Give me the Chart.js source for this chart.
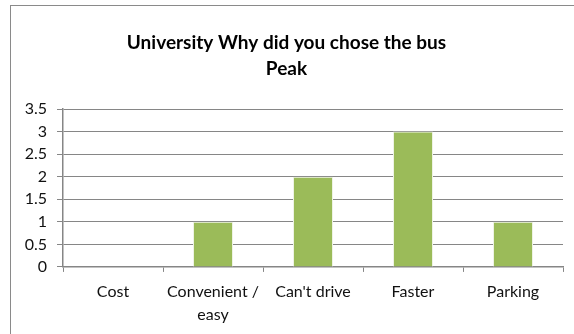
<!DOCTYPE html>
<html>
<head>
<meta charset="utf-8">
<script src="https://cdn.jsdelivr.net/npm/chart.js@4/dist/chart.umd.min.js"></script>
<style>
  html, body { margin: 0; padding: 0; background: #fff; }
  #wrap { position: relative; width: 574px; height: 334px; overflow: hidden; }
  #frame { position: absolute; left: 10px; top: 5px; width: 600px; height: 400px; border: 1px solid #8a8a8a; }
  #chart { position: absolute; left: 0; top: 0; }
</style>
</head>
<body>
<div id="wrap">
  <div id="frame"></div>
  <canvas id="chart" width="574" height="334"></canvas>
</div>
<script>
// chart data
const categories = ['Cost', ['Convenient /', 'easy'], "Can't drive", 'Faster', 'Parking'];
const counts = [0, 1, 2, 3, 1];
const titleLines = ['University Why did you chose the bus', 'Peak'];

const axisGray = '#868686';
const fontFamily = 'Lato, Calibri, "Open Sans", sans-serif';

const ctx = document.getElementById('chart').getContext('2d');
const chart = new Chart(ctx, {
  type: 'bar',
  data: {
    labels: categories,
    datasets: [{
      data: counts,
      backgroundColor: '#9BBB59',
      borderColor: '#eef3e4',
      borderWidth: 1,
      barPercentage: 0.4,
      categoryPercentage: 1
    }]
  },
  options: {
    responsive: false,
    animation: false,
    layout: { padding: { left: 10, right: 11, top: 0, bottom: 0 } },
    plugins: {
      legend: { display: false },
      tooltip: { enabled: false },
      title: {
        display: true,
        text: titleLines,
        color: '#000',
        font: { family: fontFamily, size: 19, weight: 'bold', lineHeight: 1.37 },
        padding: { top: 30, bottom: 27 }
      }
    },
    scales: {
      x: {
        offset: true,
        grid: { offset: true, drawOnChartArea: false, color: axisGray, tickLength: 5 },
        border: { color: axisGray, width: 1.5 },
        ticks: { color: '#111', font: { family: fontFamily, size: 16, lineHeight: 1.44 }, maxRotation: 0, padding: 8 }
      },
      y: {
        min: 0,
        max: 3.5,
        ticks: {
          stepSize: 0.5,
          color: '#111',
          font: { family: fontFamily, size: 16 },
          padding: 10,
          callback: v => String(v)
        },
        grid: { color: axisGray, tickLength: 6 },
        border: { color: axisGray, width: 1.5 },
        afterFit: s => { s.width = 53; }
      }
    }
  }
});
</script>
</body>
</html>
